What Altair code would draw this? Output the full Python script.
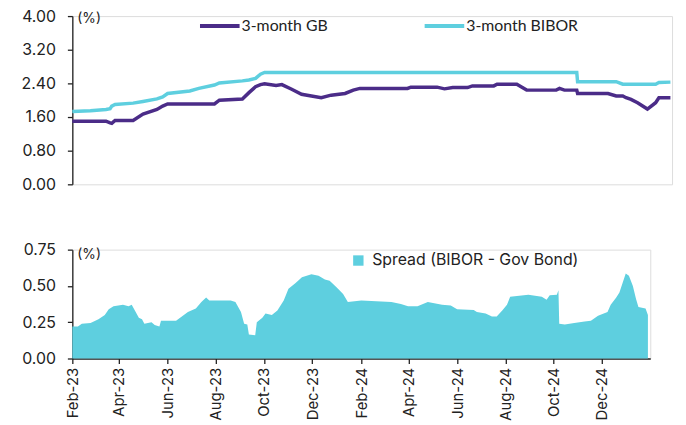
import altair as alt
import pandas as pd

# ---------------- data ----------------
top_dates = [
    "2023-02-01", "2023-02-23", "2023-03-14", "2023-03-19", "2023-03-21", "2023-03-25",
    "2023-04-16", "2023-04-28", "2023-05-15", "2023-05-22", "2023-05-28", "2023-06-24",
    "2023-07-05", "2023-07-24", "2023-07-30", "2023-08-27", "2023-09-04", "2023-09-12",
    "2023-09-18", "2023-09-23", "2023-10-07", "2023-10-14", "2023-10-26", "2023-11-07",
    "2023-11-19", "2023-12-01", "2023-12-13", "2023-12-30", "2024-01-09", "2024-01-17",
    "2024-03-15", "2024-03-19", "2024-04-20", "2024-04-29", "2024-05-09", "2024-05-27",
    "2024-06-02", "2024-06-28", "2024-07-02", "2024-07-26", "2024-08-07", "2024-09-12",
    "2024-09-16", "2024-09-22", "2024-10-07", "2024-10-08", "2024-11-14", "2024-11-24",
    "2024-12-02", "2024-12-06", "2024-12-12", "2024-12-20", "2025-01-01", "2025-01-11",
    "2025-01-15", "2025-01-29",
]
gb_3m = [
    1.50, 1.50, 1.50, 1.46, 1.45, 1.52, 1.52, 1.67, 1.78, 1.86,
    1.91, 1.91, 1.91, 1.91, 2.00, 2.03, 2.18, 2.32, 2.37, 2.39,
    2.35, 2.37, 2.26, 2.14, 2.10, 2.06, 2.12, 2.16, 2.24, 2.28,
    2.28, 2.31, 2.31, 2.27, 2.30, 2.30, 2.34, 2.34, 2.38, 2.38,
    2.24, 2.24, 2.28, 2.24, 2.24, 2.16, 2.16, 2.10, 2.10, 2.06,
    2.02, 1.94, 1.79, 1.94, 2.06, 2.06,
]
bibor_3m = [
    1.73, 1.75, 1.78, 1.80, 1.86, 1.90, 1.93, 1.97, 2.03, 2.08,
    2.16, 2.22, 2.28, 2.36, 2.41, 2.46, 2.48, 2.52, 2.62, 2.66,
    2.66, 2.66, 2.66, 2.66, 2.66, 2.66, 2.66, 2.66, 2.66, 2.66,
    2.66, 2.66, 2.66, 2.66, 2.66, 2.66, 2.66, 2.66, 2.66, 2.66,
    2.66, 2.66, 2.66, 2.66, 2.66, 2.44, 2.44, 2.44, 2.38, 2.38,
    2.38, 2.38, 2.38, 2.38, 2.42, 2.43,
]

spread_dates = [
    "2023-02-01", "2023-02-08", "2023-02-13", "2023-02-24", "2023-03-06", "2023-03-14",
    "2023-03-19", "2023-03-25", "2023-04-06", "2023-04-13", "2023-04-17", "2023-04-21",
    "2023-04-26", "2023-04-30", "2023-05-03", "2023-05-12", "2023-05-16", "2023-05-22",
    "2023-05-24", "2023-06-12", "2023-06-18", "2023-06-27", "2023-07-07", "2023-07-14",
    "2023-07-20", "2023-07-24", "2023-08-20", "2023-08-26", "2023-09-02", "2023-09-06",
    "2023-09-10", "2023-09-12", "2023-09-20", "2023-09-22", "2023-09-29", "2023-10-03",
    "2023-10-11", "2023-10-18", "2023-10-26", "2023-11-01", "2023-11-10", "2023-11-18",
    "2023-11-30", "2023-12-09", "2023-12-17", "2023-12-23", "2024-01-01", "2024-01-09",
    "2024-01-15", "2024-02-01", "2024-03-10", "2024-03-22", "2024-03-31", "2024-04-12",
    "2024-04-25", "2024-05-13", "2024-05-24", "2024-06-01", "2024-06-22", "2024-06-26",
    "2024-07-07", "2024-07-15", "2024-07-21", "2024-07-28", "2024-08-03", "2024-08-07",
    "2024-08-30", "2024-09-16", "2024-09-22", "2024-09-26", "2024-10-05", "2024-10-07",
    "2024-10-08", "2024-10-15", "2024-10-27", "2024-11-09", "2024-11-17", "2024-11-26",
    "2024-12-08", "2024-12-12", "2024-12-19", "2024-12-23", "2024-12-27", "2024-12-31",
    "2025-01-04", "2025-01-09", "2025-01-13", "2025-01-16", "2025-01-25", "2025-01-28",
]
spread = [
    0.22, 0.22, 0.24, 0.245, 0.27, 0.30,
    0.34, 0.36, 0.37, 0.36, 0.37, 0.33,
    0.28, 0.27, 0.24, 0.25, 0.23, 0.22,
    0.26, 0.26, 0.285, 0.32, 0.345, 0.39,
    0.42, 0.40, 0.40, 0.39, 0.32, 0.24,
    0.235, 0.165, 0.16, 0.25, 0.28, 0.31,
    0.30, 0.33, 0.40, 0.48, 0.52, 0.56,
    0.58, 0.57, 0.545, 0.535, 0.49, 0.445,
    0.39, 0.40, 0.39, 0.375, 0.36, 0.36,
    0.39, 0.37, 0.365, 0.34, 0.335, 0.32,
    0.31, 0.29, 0.29, 0.33, 0.37, 0.425,
    0.44, 0.425, 0.405, 0.435, 0.44, 0.47,
    0.24, 0.235, 0.245, 0.255, 0.26, 0.295,
    0.32, 0.37, 0.42, 0.455, 0.52, 0.585,
    0.57, 0.50, 0.41, 0.355, 0.345, 0.30,
]

series_names = ["3-month GB", "3-month BIBOR"]
spread_name = "Spread (BIBOR - Gov Bond)"
x_tick_months = [(2023, 2), (2023, 4), (2023, 6), (2023, 8), (2023, 10), (2023, 12),
                 (2024, 2), (2024, 4), (2024, 6), (2024, 8), (2024, 10), (2024, 12)]
top_y_ticks = [0.0, 0.8, 1.6, 2.4, 3.2, 4.0]
bottom_y_ticks = [0.0, 0.25, 0.5, 0.75]

PURPLE = "#4b2c88"
CYAN = "#5ecfdf"
TEXT = "#222222"
FONT = "Inter"

top_df = pd.DataFrame({
    "date": top_dates + top_dates,
    "value": gb_3m + bibor_3m,
    "series": [series_names[0]] * len(top_dates) + [series_names[1]] * len(top_dates),
})
bottom_df = pd.DataFrame({"date": spread_dates, "value": spread, "series": spread_name})
pct_df = pd.DataFrame({"t": ["(%)"]})

x_domain = [alt.DateTime(year=2023, month=2, date=1, utc=True),
            alt.DateTime(year=2025, month=1, date=31, utc=True)]
x_ticks = [alt.DateTime(year=y, month=m, date=1, utc=True) for y, m in x_tick_months]

y_axis_common = dict(title=None, grid=False, format=".2f", labelFont=FONT, labelFontSize=16,
                     labelColor=TEXT, domainColor="#222222", tickColor="#222222",
                     domainWidth=1.3, tickWidth=1.3, tickSize=5, labelPadding=12)

# ---------------- top panel ----------------
lines = alt.Chart(top_df).mark_line(strokeWidth=3.5).encode(
    x=alt.X("date:T", scale=alt.Scale(type="utc", domain=x_domain), axis=None),
    y=alt.Y("value:Q", scale=alt.Scale(domain=[0, 4], nice=False),
            axis=alt.Axis(values=top_y_ticks, **y_axis_common)),
    color=alt.Color("series:N", sort=series_names,
                    scale=alt.Scale(domain=series_names, range=[PURPLE, CYAN]),
                    legend=alt.Legend(orient="none", legendX=126, legendY=2,
                                      direction="horizontal", title=None, padding=0,
                                      symbolType="M-1,0L7,0", symbolSize=100,
                                      symbolStrokeWidth=4, labelFont="Lato",
                                      labelFontSize=16, labelColor=TEXT,
                                      labelOffset=29, columnPadding=89)),
)
pct_top = alt.Chart(pct_df).mark_text(font=FONT, fontSize=14, color=TEXT, align="left",
                                      baseline="middle").encode(
    x=alt.value(5), y=alt.value(3), text="t:N")
top = alt.layer(lines, pct_top).properties(width=606, height=170)

# ---------------- bottom panel ----------------
area = alt.Chart(bottom_df).mark_area(opacity=1).encode(
    x=alt.X("date:T", scale=alt.Scale(type="utc", domain=x_domain),
            axis=alt.Axis(values=x_ticks, labelExpr="utcFormat(datum.value, '%b-%y')",
                          labelAngle=270,
                          title=None, grid=False, labelFont=FONT, labelFontSize=15,
                          labelColor=TEXT, domainColor="#222222", tickColor="#222222",
                          domainWidth=1.3, tickWidth=1.3, tickSize=5, labelPadding=4)),
    y=alt.Y("value:Q", scale=alt.Scale(domain=[0, 0.75], nice=False),
            axis=alt.Axis(values=bottom_y_ticks, **y_axis_common)),
    color=alt.Color("series:N", scale=alt.Scale(domain=[spread_name], range=[CYAN]),
                    legend=alt.Legend(orient="none", legendX=281, legendY=3, title=None,
                                      padding=0, symbolType="square", symbolSize=110,
                                      symbolStrokeWidth=0, labelFont=FONT, labelFontSize=16,
                                      labelColor=TEXT, labelOffset=6, labelLimit=400)),
)
pct_bot = alt.Chart(pct_df).mark_text(font=FONT, fontSize=14, color=TEXT, align="left",
                                      baseline="middle").encode(
    x=alt.value(5), y=alt.value(5), text="t:N")
bottom = alt.layer(area, pct_bot).properties(width=584, height=110)

chart = alt.vconcat(top, bottom, spacing=48).resolve_scale(
    x="independent", y="independent", color="independent"
).properties(
    padding={"left": 12, "top": -3, "right": 0, "bottom": 0}
).configure_view(stroke=None).configure(background="white")

chart.save("out.html", embed_options={"renderer": "svg", "actions": False})
